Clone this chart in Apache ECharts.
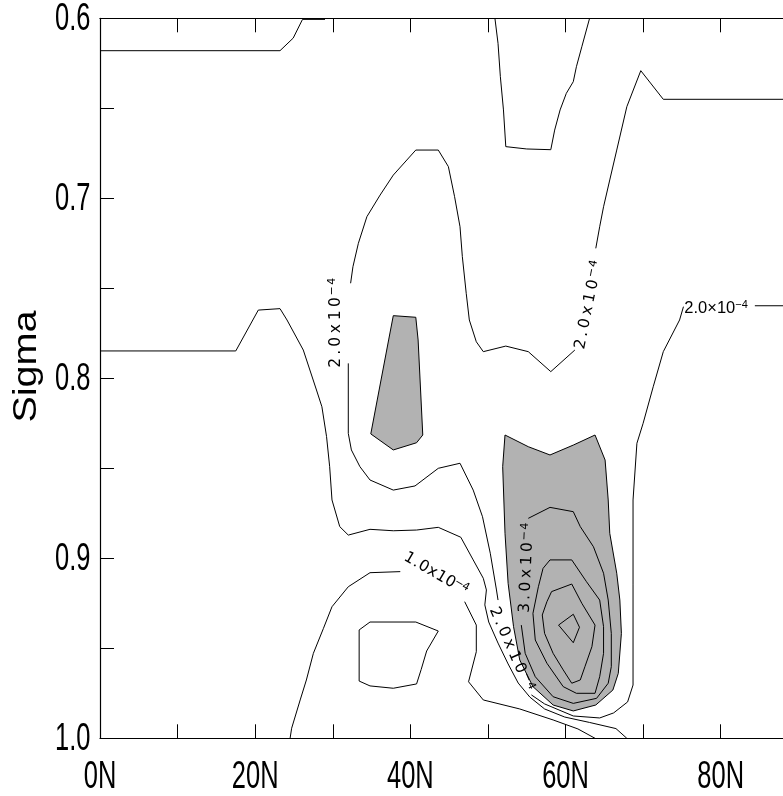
<!DOCTYPE html>
<html>
<head>
<meta charset="utf-8">
<script src="https://cdn.jsdelivr.net/npm/echarts@6/dist/echarts.min.js"></script>
<style>
  html, body { margin: 0; padding: 0; background: #fff; }
  #chart { width: 783px; height: 796px; }
</style>
</head>
<body>
<div id="chart"></div>
<script>
// ---- axes ----
const latTicks = [0, 10, 20, 30, 40, 50, 60, 70, 80, 90];
const latLabels = ['0N', '', '20N', '', '40N', '', '60N', '', '80N', ''];
const sigmaTicks = [0.6, 0.65, 0.7, 0.75, 0.8, 0.85, 0.9, 0.95, 1.0];
const sigmaLabels = ['0.6', '', '0.7', '', '0.8', '', '0.9', '', '1.0'];
const sigmaTitle = 'Sigma';

// ---- contour lines, points are [latitude, sigma] ----
const lineUpperLeft = [[0, 0.618], [23.2, 0.618], [24.9, 0.611], [26.1, 0.6006], [29.0, 0.6006]];

const lineUpperTrough = [[50.9, 0.6], [51.3, 0.6139], [51.6, 0.6324], [52.0, 0.6509], [52.3, 0.6713],
  [55.0, 0.6726], [58.1, 0.6730], [58.6, 0.6621], [59.3, 0.6509], [60.1, 0.6417], [61.0, 0.6352],
  [61.4, 0.6269], [62.1, 0.6158], [63.1, 0.6]];

// 2.0e-4 contour, split where its labels sit
const level20a = [[90, 0.645], [72.6, 0.645], [69.7, 0.6291], [67.9, 0.6491], [66.6, 0.6732],
  [65.7, 0.6898], [64.9, 0.7047], [64.4, 0.7158], [63.9, 0.7278]];
const level20b = [[61.2, 0.7843], [58.1, 0.7963], [55.2, 0.7852], [52.3, 0.7821], [49.4, 0.7852],
  [48.5, 0.7797], [47.6, 0.7676], [47.2, 0.7528], [46.7, 0.7324], [46.4, 0.7158], [45.7, 0.6991],
  [44.9, 0.6824], [43.6, 0.6732], [40.7, 0.6732], [37.8, 0.6871], [36.1, 0.6982], [34.4, 0.7102],
  [33.3, 0.7250], [32.6, 0.7380], [32.3, 0.7472]];
const level20c = [[32.0, 0.7917], [32.0, 0.8306], [32.4, 0.8398], [33.5, 0.8491], [34.8, 0.8565],
  [37.8, 0.8621], [40.6, 0.8598], [43.6, 0.8500], [46.4, 0.8472], [48.1, 0.8621], [49.3, 0.8769],
  [50.3, 0.8972], [51.1, 0.9176], [51.3, 0.9232]];
const level20d = [[55.6, 0.9759], [57.3, 0.9809], [61.0, 0.9876], [64.4, 0.9887], [66.2, 0.9859],
  [68.0, 0.9798], [68.7, 0.9704], [68.7, 0.9148], [68.7, 0.8676], [69.2, 0.8361], [70.0, 0.8250],
  [71.3, 0.8047], [72.6, 0.7852], [74.7, 0.7676], [75.2, 0.7602]];
const level20e = [[84.4, 0.7597], [90, 0.7597]];

// 1.5e-4 contour (unlabelled)
const level15 = [[0, 0.7848], [17.5, 0.7848], [20.4, 0.7621], [23.2, 0.7613], [24.1, 0.7676],
  [26.2, 0.7843], [27.9, 0.8065], [28.6, 0.8158], [29.2, 0.8324], [29.6, 0.8491], [29.9, 0.8676],
  [30.9, 0.8824], [32.0, 0.8871], [34.8, 0.8839], [37.8, 0.8847], [40.8, 0.8843], [43.6, 0.8828],
  [46.5, 0.8883], [48.1, 0.9009], [49.4, 0.9111], [49.8, 0.9176], [49.6, 0.9259], [50.1, 0.9354],
  [51.3, 0.9471], [52.6, 0.9587], [53.9, 0.9693], [55.4, 0.9771], [57.3, 0.9837], [59.9, 0.9882],
  [63.1, 0.9912], [66.5, 0.9946], [67.9, 1.0]];

// 1.0e-4 contour
const level10a = [[24.5, 1.0], [24.7, 0.9944], [25.8, 0.9787], [26.6, 0.9676], [27.5, 0.9528],
  [28.8, 0.9389], [29.9, 0.9269], [32.0, 0.9158], [34.8, 0.9080], [38.7, 0.9074]];
const level10b = [[47.0, 0.9241], [48.5, 0.9371], [48.5, 0.9519], [47.5, 0.9686], [49.4, 0.9787],
  [54.1, 0.9837], [58.4, 0.9898], [61.6, 0.9948], [63.8, 1.0]];

// closed minimum near 35-43N
const lowCell = [[33.4, 0.9398], [34.8, 0.9354], [40.7, 0.9354], [43.6, 0.9404], [42.1, 0.9515],
  [41.4, 0.9617], [40.8, 0.9698], [37.8, 0.9722], [34.8, 0.9709], [33.4, 0.9682], [33.4, 0.9398]];

// 3.0e-4 contour and inner maxima inside the shaded core
const level30 = [[55.2, 0.8778], [58.0, 0.8717], [61.0, 0.8741], [61.9, 0.8824], [63.6, 0.8936],
  [64.9, 0.9083], [65.5, 0.9232], [65.9, 0.9417], [65.9, 0.9602], [65.5, 0.9694], [64.0, 0.9778],
  [61.0, 0.9806], [58.4, 0.9769], [56.1, 0.9658], [54.8, 0.9528], [54.3, 0.9371]];
const level35 = [[58.0, 0.9009], [60.8, 0.9009], [62.7, 0.9130], [64.4, 0.9232], [64.9, 0.9380],
  [64.9, 0.9528], [64.4, 0.9658], [63.8, 0.9750], [61.4, 0.9750], [59.7, 0.9713], [57.6, 0.9583],
  [56.1, 0.9454], [55.8, 0.9306], [56.5, 0.9158], [57.1, 0.9056], [58.0, 0.9009]];
const level40 = [[58.2, 0.9185], [60.8, 0.9143], [62.1, 0.9250], [63.8, 0.9371], [63.4, 0.9491],
  [62.5, 0.9602], [61.9, 0.9676], [60.8, 0.9694], [59.7, 0.9620], [58.4, 0.9528], [57.3, 0.9417],
  [57.0, 0.9315], [57.6, 0.9241], [58.2, 0.9185]];
const level45 = [[59.1, 0.9371], [61.0, 0.9311], [61.8, 0.9383], [61.0, 0.9469], [59.1, 0.9371]];

// shaded regions
const shadeSmall = [[37.8, 0.7652], [40.7, 0.7661], [41.0, 0.7787], [41.6, 0.8315], [40.8, 0.8358],
  [37.8, 0.8398], [34.9, 0.8309], [37.2, 0.7787]];
const shadeCore = [[52.2, 0.8315], [55.2, 0.8380], [58.0, 0.8426], [61.0, 0.8371], [63.8, 0.8315],
  [65.1, 0.8454], [65.5, 0.8676], [65.7, 0.8861], [66.6, 0.9083], [67.0, 0.9232], [67.2, 0.9417],
  [66.8, 0.9639], [66.1, 0.9732], [63.9, 0.9815], [61.0, 0.9848], [58.4, 0.9815], [55.8, 0.9713],
  [54.1, 0.9565], [53.3, 0.9380], [52.6, 0.9139], [52.2, 0.8861], [51.9, 0.8491]];

// contour labels: position [latitude, sigma] and text
const labelPos = [[30.4, 0.7693], [63.0, 0.7593], [43.3, 0.9087], [53.0, 0.9504], [55.0, 0.9054], [79.4, 0.7610]];
const labelMantissa = ['2.0', '2.0', '1.0', '2.0', '3.0', '2.0'];
const labelExponent = ['-4', '-4', '-4', '-4', '-4', '-4'];

// ---- drawing ----
const strokeFont = "'DejaVu Sans', sans-serif";
const sansFont = "'Liberation Sans', Arial, sans-serif";
const labelAngle = [90, 78.7, -30, -66.4, 87.4, 0];
// advance of one glyph cell for the in-line labels (wide, plotter-style spacing)
const labelCell = [13.2, 13.2, 10.2, 13.2, 13.2, 0];

function strokeText(i) {
  const body = Array.from(labelMantissa[i] + 'x10').map(c => (c === '.' ? '{p|.}' : '{c|' + c + '}')).join('');
  const sup = Array.from(labelExponent[i].replace('-', '\u2212')).map(c => '{s|' + c + '}').join('');
  return body + sup;
}

const lineSegments = [lineUpperLeft, lineUpperTrough, level20a, level20b, level20c, level20d, level20e,
  level15, level10a, level10b, lowCell, level30, level35, level40, level45];

const series = [];
[shadeSmall, shadeCore].forEach(poly => {
  series.push({
    type: 'custom',
    coordinateSystem: 'cartesian2d',
    silent: true,
    data: [poly[0]],
    renderItem: (params, api) => ({
      type: 'polygon',
      shape: { points: poly.map(p => api.coord(p)) },
      style: { fill: '#b2b2b2', stroke: '#000', lineWidth: 1 }
    })
  });
});
lineSegments.forEach(seg => {
  series.push({
    type: 'line',
    data: seg,
    showSymbol: false,
    silent: true,
    lineStyle: { color: '#000', width: 1 }
  });
});
series.push({
  type: 'custom',
  coordinateSystem: 'cartesian2d',
  silent: true,
  data: labelPos,
  renderItem: (params, api) => {
    const i = params.dataIndex;
    const pt = api.coord([api.value(0), api.value(1)]);
    const rot = labelAngle[i] * Math.PI / 180;
    if (i === labelPos.length - 1) {
      return {
        type: 'text', x: pt[0], y: pt[1], rotation: rot,
        style: {
          text: '{m|' + labelMantissa[i] + '\u00d710}{s|' + labelExponent[i].replace('-', '\u2212') + '}',
          align: 'center', verticalAlign: 'middle',
          rich: {
            m: { fontFamily: sansFont, fontSize: 16.5, fill: '#000', lineHeight: 18 },
            s: { fontFamily: sansFont, fontSize: 11, fill: '#000', lineHeight: 12, verticalAlign: 'top' }
          }
        }
      };
    }
    const w = labelCell[i];
    return {
      type: 'text', x: pt[0], y: pt[1], rotation: rot,
      style: {
        text: strokeText(i),
        align: 'center', verticalAlign: 'middle',
        rich: {
          c: { fontFamily: strokeFont, fontSize: 15.5, fill: '#000', lineHeight: 18, width: w, align: 'center' },
          p: { fontFamily: strokeFont, fontSize: 15.5, fill: '#000', lineHeight: 18, width: w * 0.6, align: 'center' },
          s: { fontFamily: strokeFont, fontSize: 11, fill: '#000', lineHeight: 12, verticalAlign: 'top', width: w * 0.72, align: 'center' }
        }
      }
    };
  }
});

// tick labels in a condensed face, placed at the ticks through the cartesian scale
const tickFontSize = 38;
const tickCondense = 0.67;
series.push({
  type: 'custom',
  coordinateSystem: 'cartesian2d',
  silent: true,
  clip: false,
  data: latTicks.map((t, i) => [t, sigmaTicks[sigmaTicks.length - 1], i]).filter(d => latLabels[d[2]]),
  renderItem: (params, api) => {
    const pt = api.coord([api.value(0), api.value(1)]);
    return {
      type: 'text', x: pt[0], y: pt[1] + 39, scaleX: tickCondense,
      style: { text: latLabels[api.value(2)], fontFamily: sansFont, fontSize: tickFontSize, fill: '#000',
        align: 'center', verticalAlign: 'middle' }
    };
  }
});
series.push({
  type: 'custom',
  coordinateSystem: 'cartesian2d',
  silent: true,
  clip: false,
  data: sigmaTicks.map((t, i) => [latTicks[0], t, i]).filter(d => sigmaLabels[d[2]]),
  renderItem: (params, api) => {
    const pt = api.coord([api.value(0), api.value(1)]);
    return {
      type: 'text', x: pt[0] - 9.5, y: pt[1] + 1.5, scaleX: tickCondense,
      style: { text: sigmaLabels[api.value(2)], fontFamily: sansFont, fontSize: tickFontSize, fill: '#000',
        align: 'right', verticalAlign: 'middle' }
    };
  }
});

const axisLineStyle = { color: '#000', width: 1.2 };
const tickStyle = { show: true, inside: true, length: 14, lineStyle: { color: '#000', width: 1 } };

const chart = echarts.init(document.getElementById('chart'), null, { renderer: 'canvas' });
chart.setOption({
  animation: false,
  backgroundColor: '#fff',
  grid: { left: 100, top: 18.3, width: 698.3, height: 720, containLabel: false, outerBoundsMode: 'none' },
  xAxis: [{
    type: 'value', position: 'bottom', min: latTicks[0], max: latTicks[latTicks.length - 1], interval: 10,
    axisLine: { show: true, lineStyle: axisLineStyle },
    axisTick: tickStyle,
    splitLine: { show: false },
    axisLabel: { show: false }
  }, {
    type: 'value', position: 'top', min: latTicks[0], max: latTicks[latTicks.length - 1], interval: 10,
    axisLine: { show: true, lineStyle: axisLineStyle },
    axisTick: tickStyle,
    splitLine: { show: false },
    axisLabel: { show: false }
  }],
  yAxis: [{
    type: 'value', inverse: true, min: sigmaTicks[0], max: sigmaTicks[sigmaTicks.length - 1], interval: 0.05,
    axisLine: { show: true, lineStyle: axisLineStyle },
    axisTick: tickStyle,
    splitLine: { show: false },
    axisLabel: { show: false }
  }],
  // vertical axis title, drawn slightly extended along its baseline
  graphic: [{
    type: 'text', x: 27, y: 366.5, rotation: Math.PI / 2, scaleX: 1.2, silent: true,
    style: { text: sigmaTitle, fontFamily: sansFont, fontSize: 33, fill: '#000', align: 'center', verticalAlign: 'middle' }
  }],
  series: series
});
</script>
</body>
</html>
